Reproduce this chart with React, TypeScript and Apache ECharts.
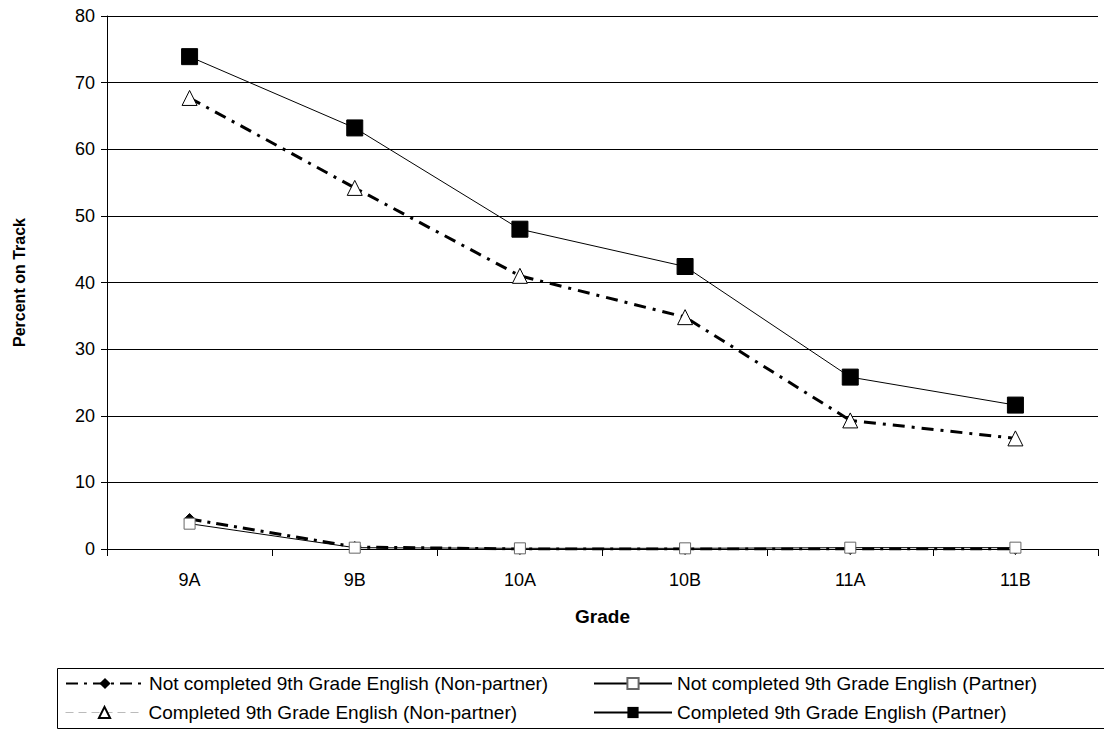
import React, { useEffect, useRef } from "react";
import * as echarts from "echarts";

const grades = ["9A", "9B", "10A", "10B", "11A", "11B"];
const notCompletedNonPartner = [4.5, 0.3, 0, 0, 0, 0];
const notCompletedPartner = [3.8, 0.2, 0.1, 0.1, 0.2, 0.2];
const completedNonPartner = [67.7, 54.2, 41.0, 34.8, 19.3, 16.6];
const completedPartner = [73.9, 63.2, 48.0, 42.4, 25.8, 21.6];
const yTicks = [0, 10, 20, 30, 40, 50, 60, 70, 80];

const names = [
  "Not completed 9th Grade English (Non-partner)",
  "Not completed 9th Grade English (Partner)",
  "Completed 9th Grade English (Non-partner)",
  "Completed 9th Grade English (Partner)",
];

const FONT = "'Liberation Sans', Arial, sans-serif";

export default function App() {
  const ref = useRef<HTMLDivElement>(null);
  useEffect(() => {
    if (!ref.current) return;
    const chart = echarts.init(ref.current, undefined, { renderer: "svg" });
    const legendText = { fontFamily: FONT, fontSize: 19, color: "#000" };
    const mkLegend = (name: string, left: number, top: number, extra: any = {}) => ({
      show: true,
      left,
      top,
      orient: "horizontal",
      itemWidth: 78,
      itemHeight: 14,
      itemGap: 8,
      padding: 0,
      textStyle: legendText,
      data: [{ name, ...extra }],
    });
    chart.setOption({
      animation: false,
      backgroundColor: "#fff",
      textStyle: { fontFamily: FONT },
      grid: { left: 107, top: 16, right: 6, bottom: 181, containLabel: false },
      xAxis: {
        type: "category",
        data: grades,
        boundaryGap: true,
        name: "Grade",
        nameLocation: "middle",
        nameGap: 58,
        nameTextStyle: { fontFamily: FONT, fontSize: 19, fontWeight: "bold", color: "#000" },
        axisLine: { lineStyle: { color: "#000", width: 1 } },
        axisTick: { show: true, length: 7, lineStyle: { color: "#000" } },
        axisLabel: { fontFamily: FONT, fontSize: 18, color: "#000", margin: 22 },
        splitLine: { show: false },
      },
      yAxis: {
        type: "value",
        min: yTicks[0],
        max: yTicks[yTicks.length - 1],
        interval: 10,
        name: "Percent on Track",
        nameLocation: "middle",
        nameGap: 80,
        nameRotate: 90,
        nameTextStyle: { fontFamily: FONT, fontSize: 16, fontWeight: "bold", color: "#000" },
        axisLine: { show: true, lineStyle: { color: "#000", width: 1 } },
        axisTick: { show: true, length: 6, lineStyle: { color: "#000" } },
        axisLabel: { fontFamily: FONT, fontSize: 18, color: "#000", margin: 12 },
        splitLine: { show: true, lineStyle: { color: "#000", width: 1 } },
      },
      legend: [
        mkLegend(names[0], 65, 674),
        mkLegend(names[1], 593, 674),
        mkLegend(names[2], 65, 703, {
          lineStyle: { color: "#bbb", width: 1, type: [8, 5] },
        }),
        mkLegend(names[3], 593, 703),
      ],
      graphic: [
        {
          type: "rect",
          shape: { x: 57.5, y: 668.5, width: 1060, height: 60 },
          style: { fill: "none", stroke: "#000", lineWidth: 1 },
          silent: true,
        },
      ],
      series: [
        {
          name: names[0],
          type: "line",
          data: notCompletedNonPartner,
          symbol: "diamond",
          symbolSize: 11,
          itemStyle: { color: "#000", borderColor: "#000" },
          lineStyle: { color: "#000", width: 3, type: [12, 6, 3, 6] },
          z: 3,
        },
        {
          name: names[1],
          type: "line",
          data: notCompletedPartner,
          symbol: "rect",
          symbolSize: 11,
          itemStyle: { color: "#fff", borderColor: "#666", borderWidth: 1 },
          lineStyle: { color: "#000", width: 1 },
          z: 4,
        },
        {
          name: names[2],
          type: "line",
          data: completedNonPartner,
          symbol: "triangle",
          symbolSize: 15,
          itemStyle: { color: "#fff", borderColor: "#000", borderWidth: 1 },
          lineStyle: { color: "#000", width: 3, type: [12, 7, 3, 7] },
          z: 3,
        },
        {
          name: names[3],
          type: "line",
          data: completedPartner,
          symbol: "rect",
          symbolSize: 16,
          itemStyle: { color: "#000", borderColor: "#000" },
          lineStyle: { color: "#000", width: 1 },
          z: 4,
        },
      ],
    });
    return () => chart.dispose();
  }, []);
  return <div ref={ref} style={{ width: 1104, height: 730, position: "absolute", left: 0, top: 0 }} />;
}
